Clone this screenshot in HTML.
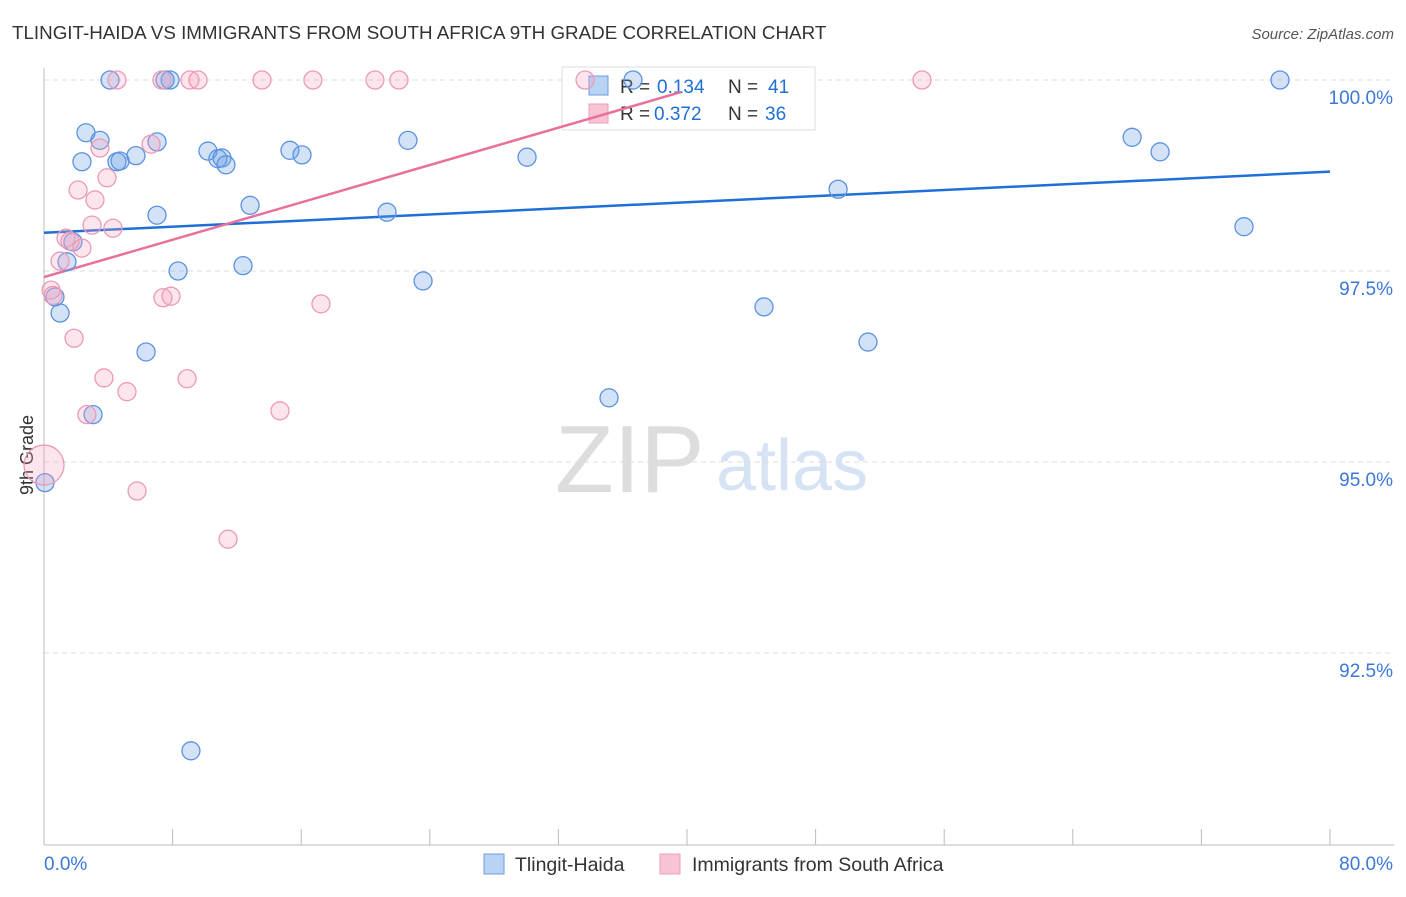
<!DOCTYPE html>
<html><head><meta charset="utf-8"><style>
body{margin:0;background:#fff;font-family:"Liberation Sans",sans-serif;}
svg text{font-family:"Liberation Sans",sans-serif;}
</style></head><body>
<svg id="chart" width="1406" height="892" xmlns="http://www.w3.org/2000/svg">
<text x="12" y="39" font-size="18.8" fill="#333">TLINGIT-HAIDA VS IMMIGRANTS FROM SOUTH AFRICA 9TH GRADE CORRELATION CHART</text>
<text x="1394" y="39" font-size="15" fill="#555" text-anchor="end" font-style="italic">Source: ZipAtlas.com</text>
<text x="33" y="455" font-size="18" fill="#333" text-anchor="middle" transform="rotate(-90 33 455)">9th Grade</text>
<g>
<text x="555" y="492" font-size="96" fill="#ddd" font-family="Liberation Serif">ZIP</text>
<text x="716" y="490" font-size="72" fill="#d5e3f5">atlas</text>
</g>
<g id="grid"></g><g id="axes"></g>
<g>
<rect x="562" y="67" width="253" height="63" fill="#fff" fill-opacity="0.85" stroke="#ddd"/>
<rect x="589" y="76" width="19" height="19" fill="#b9d3f5" stroke="#6a9be0"/>
<rect x="589" y="104" width="19" height="19" fill="#f8c3d3" stroke="#e8a0b8"/>
<g font-size="19" fill="#333">
<text x="620" y="93">R =</text>
<text x="657" y="93" fill="#1f6fd6">0.134</text>
<text x="728" y="93">N =</text>
<text x="768" y="93" fill="#1f6fd6">41</text>
<text x="620" y="120">R =</text>
<text x="654" y="120" fill="#1f6fd6">0.372</text>
<text x="728" y="120">N =</text>
<text x="765" y="120" fill="#1f6fd6">36</text>
</g>
</g>
<g id="lines"></g><g id="pts"></g>
<g>
<rect x="484" y="854" width="20" height="20" fill="#b9d3f5" stroke="#6a9be0"/>
<text x="515" y="871" font-size="19.5" fill="#333">Tlingit-Haida</text>
<rect x="660" y="854" width="20" height="20" fill="#f8c3d3" stroke="#e8a0b8"/>
<text x="692" y="871" font-size="19.5" fill="#333">Immigrants from South Africa</text>
</g>
</svg>
<script>
const yTicks=[100,97.5,95,92.5];
const yTickLabels=["100.0%","97.5%","95.0%","92.5%"];
const xTickVals=[0,8,16,24,32,40,48,56,64,72,80];
const xEndLabels=["0.0%","80.0%"];
const blueX=[4.11,7.53,7.84,36.64,76.89,2.61,3.48,2.36,4.54,4.73,5.72,7.03,10.20,10.82,11.07,11.32,15.30,16.05,22.64,30.05,7.03,12.82,21.34,49.40,67.69,69.43,74.65,1.43,1.80,8.34,12.38,23.58,0.68,1.00,44.79,51.26,6.35,3.05,35.15,0.06,9.14];
const blueY=[100,100,100,100,100,99.31,99.21,98.93,98.93,98.94,99.01,99.19,99.07,98.97,98.98,98.89,99.08,99.02,99.21,98.99,98.23,98.36,98.27,98.57,99.25,99.06,98.08,97.62,97.88,97.50,97.57,97.37,97.16,96.95,97.03,96.57,96.44,95.62,95.84,94.73,91.22];
const pinkX=[4.54,7.34,9.08,9.58,13.56,16.73,20.59,22.08,33.66,54.62,3.48,6.66,3.92,2.12,3.17,2.99,4.29,1.37,1.62,2.36,1.00,0.44,0.56,7.40,7.90,17.23,1.87,3.73,5.16,8.90,2.67,14.68,5.79,11.45,0];
const pinkY=[100,100,100,100,100,100,100,100,100,100,99.11,99.16,98.72,98.56,98.43,98.10,98.06,97.93,97.89,97.80,97.63,97.25,97.18,97.15,97.17,97.07,96.62,96.10,95.92,96.09,95.62,95.67,94.62,93.99,94.96];
const pinkR=[9,9,9,9,9,9,9,9,9,9,9,9,9,9,9,9,9,9,9,9,9,9,9,9,9,9,9,9,9,9,9,9,9,9,20];
const blueTrend=[[0,98.0],[80,98.8]];
const pinkTrend=[[0,97.42],[39.6,99.84]];
const NS="http://www.w3.org/2000/svg";
const X=v=>44+v*(1286/80);
const Y=v=>80+(100-v)*76.4;
function mk(t,a,p){const e=document.createElementNS(NS,t);for(const k in a)e.setAttribute(k,a[k]);p.appendChild(e);return e;}
const grid=document.getElementById('grid'),axes=document.getElementById('axes'),lines=document.getElementById('lines'),pts=document.getElementById('pts');
yTicks.forEach((t,i)=>{
 const l=mk('line',{x1:44,x2:1394,y1:Y(t),y2:Y(t),stroke:'#ddd','stroke-dasharray':'5,4'},grid);
 
 
 const tx=mk('text',{x:1393,y:Y(t)+24,'font-size':19,fill:'#3b78d8','text-anchor':'end'},axes);
 tx.textContent=yTickLabels[i];
 
 
});
const ya=mk('line',{x1:44,x2:44,y1:68,y2:845,stroke:'#bbb'},axes);


const xa=mk('line',{x1:44,x2:1394,y1:845,y2:845,stroke:'#bbb'},axes);


xTickVals.forEach(v=>{
 const t=mk('line',{x1:X(v),x2:X(v),y1:829,y2:845,stroke:'#bbb'},axes);
 
 
});
[[0,'start',44],[80,'end',1393]].forEach((d,i)=>{
 const tx=mk('text',{x:d[2],y:870,'font-size':19,fill:'#3b78d8','text-anchor':d[1]},axes);
 tx.textContent=xEndLabels[i];
 
 
});
blueX.forEach((v,i)=>{
 const c=mk('circle',{cx:X(v),cy:Y(blueY[i]),r:9,fill:'rgba(110,160,230,0.3)',stroke:'#5b93e0','stroke-width':1.3},pts);
 
 
});
pinkX.forEach((v,i)=>{
 const c=mk('circle',{cx:X(v),cy:Y(pinkY[i]),r:pinkR[i],fill:'rgba(245,160,190,0.28)',stroke:'#eb9ab6','stroke-width':1.3},pts);
 
 
});
const bl=mk('line',{x1:X(blueTrend[0][0]),y1:Y(blueTrend[0][1]),x2:X(blueTrend[1][0]),y2:Y(blueTrend[1][1]),stroke:'#1f6fd6','stroke-width':2.5},lines);


const pl=mk('line',{x1:X(pinkTrend[0][0]),y1:Y(pinkTrend[0][1]),x2:X(pinkTrend[1][0]),y2:Y(pinkTrend[1][1]),stroke:'#e8709a','stroke-width':2.5},lines);


</script>
</body></html>
